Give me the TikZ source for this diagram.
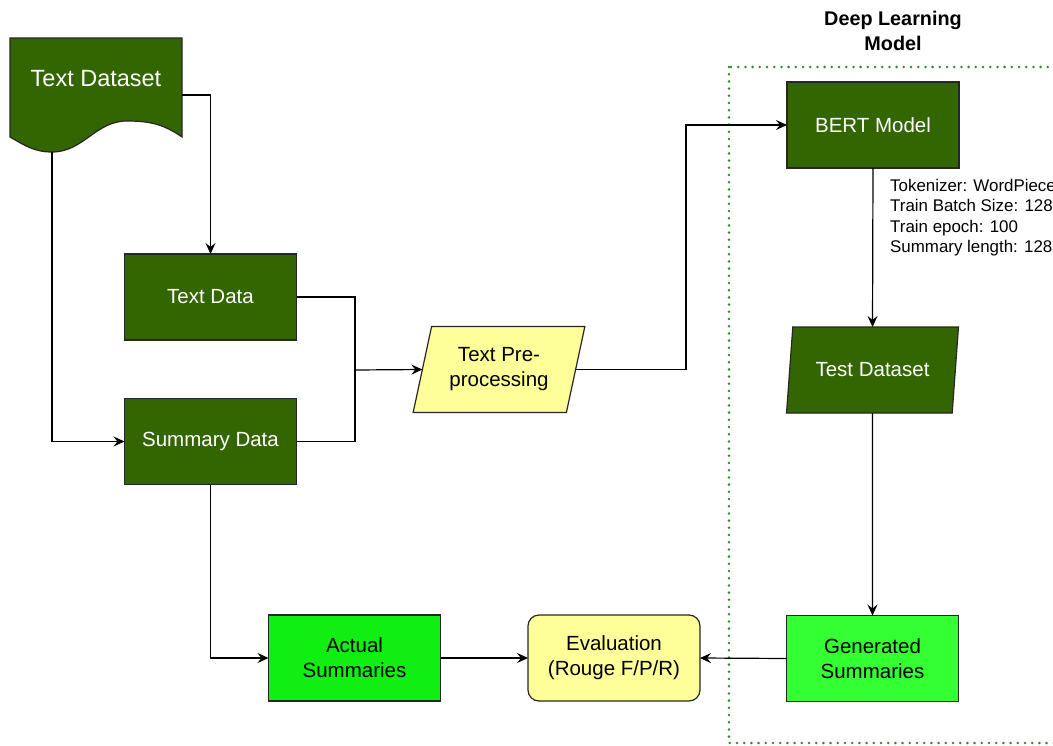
\documentclass[tikz,border=0pt]{standalone}
\usepackage{fontspec}
\setmainfont{Liberation Sans}
\usetikzlibrary{arrows.meta,shapes.geometric,calc}
\definecolor{dkgreen}{HTML}{336600}
\definecolor{ylw}{HTML}{FFFF99}
\definecolor{actgreen}{HTML}{11EE11}
\definecolor{gengreen}{HTML}{33FF33}
\definecolor{dotgreen}{HTML}{2E8B2E}
\begin{document}
\begin{tikzpicture}[x=1pt,y=-1pt,
  box/.style={draw=black!85, line width=1.2pt, minimum width=172pt, minimum height=86pt, inner sep=0pt, outer sep=0pt, align=center, font=\fontsize{20.5}{25}\selectfont},
  dkbox/.style={box, fill=dkgreen, text=white},
  para/.style={box, shape=trapezium, trapezium left angle=72.6, trapezium right angle=107.4, trapezium stretches=true},
  conn/.style={line width=1.2pt, draw=black},
  arr/.style={conn, -{Stealth[length=11pt,width=10pt,inset=4pt]}}
]
\useasboundingbox (0,0) rectangle (1053,745);
\clip (0,0) rectangle (1053,745);

% Deep learning region
\draw[dotgreen, line width=2.8pt, dash pattern=on 0pt off 7.2pt, line cap=round] (729,67) rectangle (1080,743);
\node[font=\bfseries\fontsize{19.8}{25}\selectfont, align=center] (dlm) at (893,31) {Deep Learning\\Model};

% Text Dataset (document shape)
\node[minimum width=172pt, minimum height=114pt, inner sep=0pt, outer sep=0pt] (ds) at (96,95) {};
\fill[dkgreen, draw=black!85, line width=1.2pt] (ds.north west) -- (ds.north east) -- (182,137)
  to[out=145,in=0] (127,121) to[out=180,in=0] (52,152) to[out=180,in=-30] (10,137) -- cycle;
\node[text=white, font=\fontsize{23.5}{28}\selectfont] (dslabel) at (96,79) {Text Dataset};

\node[dkbox] (td) at (210.5,297) {Text Data};
\node[dkbox] (sd) at (210.5,441.5) {Summary Data};
\node[para, fill=ylw] (pre) at (499,369.5) {Text Pre-\\processing};
\node[dkbox] (bert) at (873,125) {BERT Model};
\node[para, fill=dkgreen, text=white] (test) at (872.5,370) {Test Dataset};
\node[box, fill=actgreen] (act) at (354.5,658) {Actual\\Summaries};
\node[box, fill=ylw, rounded corners=11pt] (eval) at (614,658) {Evaluation\\(Rouge F/P/R)};
\node[box, fill=gengreen] (gen) at (872.5,658.5) {Generated\\Summaries};

\node[anchor=north west, inner sep=0pt, align=left, font=\fontsize{16.9}{20.3}\selectfont] (params) at (890,179)
  {Tokenizer: WordPiece\\Train Batch Size: 128\\Train epoch: 100\\Summary length: 128};

% connectors
\coordinate (join) at (355,370);
\coordinate (bend) at (686,250);
\draw[arr] (ds.east) -| (td.north);
\draw[arr] ($(ds.south west)+(42,0)$) |- (sd.west);
\draw[conn] (td.east) -| (join);
\draw[conn] (sd.east) -| (join);
\draw[arr] (join) -- (pre.west);
\draw[arr] (pre.east) -| (bend) |- (bert.west);
\draw[arr] (bert.south) -- (test.north);
\draw[arr] (test.south) -- (gen.north);
\draw[arr] (sd.south) |- (act.west);
\draw[arr] (act.east) -- (eval.west);
\draw[arr] (gen.west) -- (eval.east);
\end{tikzpicture}
\end{document}
